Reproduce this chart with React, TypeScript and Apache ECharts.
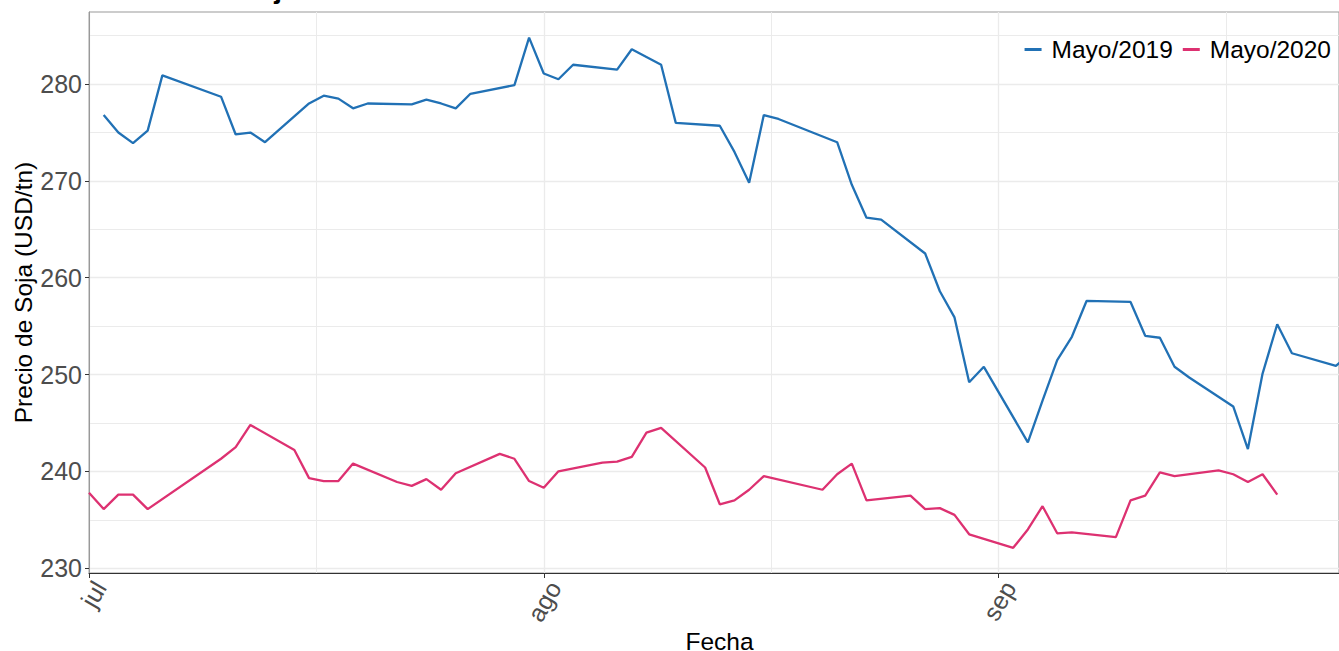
import React, { useEffect, useRef } from "react";
import * as echarts from "echarts";

// ---- data ----
const YEAR = 2018;

const mayo2019Dates = [
  "07-02", "07-03", "07-04", "07-05", "07-06", "07-10", "07-11", "07-12", "07-13",
  "07-16", "07-17", "07-18", "07-19", "07-20", "07-23", "07-24", "07-25", "07-26", "07-27",
  "07-30", "07-31", "08-01", "08-02", "08-03", "08-06", "08-07", "08-08", "08-09", "08-10",
  "08-13", "08-14", "08-15", "08-16", "08-17", "08-21", "08-22", "08-23", "08-24",
  "08-27", "08-28", "08-29", "08-30", "08-31", "09-03", "09-04", "09-05", "09-06", "09-07",
  "09-10", "09-11", "09-12", "09-13", "09-14", "09-17", "09-18", "09-19", "09-20", "09-21",
  "09-24", "09-25",
];
const mayo2019Values = [
  276.8, 275.0, 273.9, 275.2, 280.9, 278.7, 274.8, 275.0, 274.0,
  278.0, 278.8, 278.5, 277.5, 278.0, 277.9, 278.4, 278.0, 277.5, 279.0,
  279.9, 284.8, 281.1, 280.5, 282.0, 281.5, 283.6, 282.8, 282.0, 276.0,
  275.7, 273.0, 269.8, 276.8, 276.4, 274.0, 269.6, 266.2, 266.0,
  262.5, 258.6, 255.9, 249.2, 250.8, 243.0, 247.3, 251.5, 253.9, 257.6,
  257.5, 254.0, 253.8, 250.8, 249.7, 246.7, 242.3, 250.1, 255.2, 252.2,
  250.9, 252.2,
];

const mayo2020Dates = [
  "07-01", "07-02", "07-03", "07-04", "07-05", "07-10", "07-11", "07-12",
  "07-15", "07-16", "07-17", "07-18", "07-19", "07-22", "07-23", "07-24", "07-25", "07-26",
  "07-29", "07-30", "07-31", "08-01", "08-02", "08-05", "08-06", "08-07", "08-08", "08-09",
  "08-12", "08-13", "08-14", "08-15", "08-16", "08-20", "08-21", "08-22", "08-23",
  "08-26", "08-27", "08-28", "08-29", "08-30", "09-02", "09-03", "09-04", "09-05", "09-06",
  "09-09", "09-10", "09-11", "09-12", "09-13", "09-16", "09-17", "09-18", "09-19", "09-20",
];
const mayo2020Values = [
  237.8, 236.1, 237.6, 237.6, 236.1, 241.3, 242.5, 244.8,
  242.2, 239.3, 239.0, 239.0, 240.8, 238.9, 238.5, 239.2, 238.1, 239.8,
  241.8, 241.3, 239.0, 238.3, 240.0, 240.9, 241.0, 241.5, 244.0, 244.5,
  240.4, 236.6, 237.0, 238.1, 239.5, 238.1, 239.7, 240.8, 237.0,
  237.5, 236.1, 236.2, 235.5, 233.5, 232.1, 234.0, 236.4, 233.6, 233.7,
  233.2, 237.0, 237.5, 239.9, 239.5, 240.1, 239.7, 238.9, 239.7, 237.6,
];

const seriesNames = ["Mayo/2019", "Mayo/2020"];
const monthTickLabels = ["jul", "ago", "sep"];
const monthTickDays = [0, 31, 62]; // days since 1 July
const yTickValues = [230, 240, 250, 260, 270, 280];
const titleText = "Precios de Soja";

// ---- helpers ----
const DAY_MS = 86400000;
const ORIGIN = Date.UTC(YEAR, 6, 1);
const toDay = (s: string) => {
  const [m, d] = s.split("-").map(Number);
  return (Date.UTC(YEAR, m - 1, d) - ORIGIN) / DAY_MS;
};

const FONT = "'Liberation Sans', Arial, sans-serif";
const GRID_COLOR = "#ebebeb";

export default function App() {
  const ref = useRef<HTMLDivElement>(null);

  useEffect(() => {
    document.body.style.margin = "0";
    if (!ref.current) return;
    const chart = echarts.init(ref.current, undefined, { renderer: "svg" });

    const option = {
      animation: false,
      backgroundColor: "#ffffff",
      textStyle: { fontFamily: FONT },
      grid: {
        left: 89,
        top: 12,
        right: 0,
        bottom: 78,
        outerBoundsMode: "none",
        containLabel: false,
        show: true,
        borderColor: "#999999",
        borderWidth: 1,
        backgroundColor: "transparent",
      },
      graphic: [
        {
          type: "text",
          x: 89,
          y: 2,
          silent: true,
          style: {
            text: titleText,
            font: `bold 28px ${FONT}`,
            fill: "#000000",
            textAlign: "left",
            verticalAlign: "bottom",
          },
        },
      ],
      legend: {
        data: seriesNames,
        right: 8,
        top: 37,
        padding: 0,
        icon: "rect",
        itemWidth: 17,
        itemHeight: 3,
        itemGap: 10,
        selectedMode: false,
        textStyle: {
          fontFamily: FONT,
          fontSize: 24.5,
          color: "#000000",
          padding: [0, 0, 0, 5],
        },
      },
      xAxis: {
        type: "value",
        min: 0,
        max: 85.21,
        interval: 31,
        name: "Fecha",
        nameLocation: "middle",
        nameGap: 55.5,
        nameMoveOverlap: false,
        nameTextStyle: {
          fontFamily: FONT,
          fontSize: 24.5,
          color: "#000000",
          padding: [0, 0, 0, 11],
        },
        axisLine: { show: true, onZero: false, lineStyle: { color: "#333333", width: 1.2 } },
        axisTick: {
          show: true,
          length: 5,
          customValues: monthTickDays,
          lineStyle: { color: "#333333", width: 1 },
        },
        axisLabel: {
          customValues: monthTickDays,
          rotate: 60,
          margin: 4,
          verticalAlign: "top",
          fontFamily: FONT,
          fontSize: 25,
          color: "#4d4d4d",
          formatter: (v: number) => monthTickLabels[Math.round(v / 31)] ?? "",
        },
        splitLine: { show: true, lineStyle: { color: GRID_COLOR, width: 1.3 } },
        minorTick: { show: false, splitNumber: 2 },
        minorSplitLine: { show: true, lineStyle: { color: GRID_COLOR, width: 1 } },
      },
      yAxis: {
        type: "value",
        min: 229.5,
        max: 287.45,
        splitNumber: 5,
        name: "Precio de Soja (USD/tn)",
        nameLocation: "middle",
        nameGap: 53,
        nameMoveOverlap: false,
        nameTextStyle: { fontFamily: FONT, fontSize: 24.5, color: "#000000" },
        axisLine: { show: true, lineStyle: { color: "#999999", width: 1 } },
        axisTick: {
          show: true,
          length: 4,
          customValues: yTickValues,
          lineStyle: { color: "#333333", width: 1 },
        },
        axisLabel: {
          customValues: yTickValues,
          margin: 7,
          fontFamily: FONT,
          fontSize: 25,
          color: "#4d4d4d",
        },
        splitLine: { show: true, lineStyle: { color: GRID_COLOR, width: 1.3 } },
        minorTick: { show: false, splitNumber: 2 },
        minorSplitLine: { show: true, lineStyle: { color: GRID_COLOR, width: 1 } },
      },
      series: [
        {
          name: seriesNames[0],
          type: "line",
          symbol: "none",
          showSymbol: false,
          clip: true,
          color: "#2171b5",
          lineStyle: { color: "#2171b5", width: 2.3 },
          emphasis: { disabled: true },
          data: mayo2019Dates.map((d, i) => [toDay(d), mayo2019Values[i]]),
        },
        {
          name: seriesNames[1],
          type: "line",
          symbol: "none",
          showSymbol: false,
          clip: true,
          color: "#dd3171",
          lineStyle: { color: "#dd3171", width: 2.3 },
          emphasis: { disabled: true },
          data: mayo2020Dates.map((d, i) => [toDay(d), mayo2020Values[i]]),
        },
      ],
    };

    chart.setOption(option as any);
    return () => chart.dispose();
  }, []);

  return <div ref={ref} style={{ width: 1339, height: 651 }} />;
}
